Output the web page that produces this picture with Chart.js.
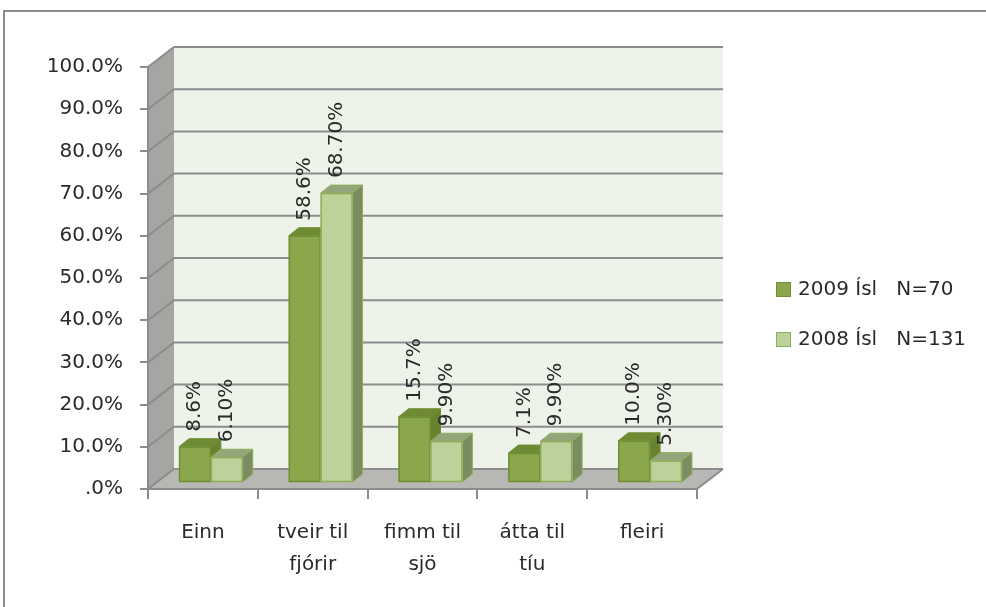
<!DOCTYPE html>
<html>
<head>
<meta charset="utf-8">
<script src="https://cdn.jsdelivr.net/npm/chart.js@4.4.0/dist/chart.umd.min.js"></script>
<style>
  html, body { margin: 0; padding: 0; background: #fff; }
  #wrap { width: 986px; height: 607px; }
</style>
</head>
<body>
<div id="wrap"><canvas id="myChart" width="986" height="607"></canvas></div>
<script>
// data
const categories = [['Einn'], ['tveir til', 'fjórir'], ['fimm til', 'sjö'], ['átta til', 'tíu'], ['fleiri']];
const seriesNames = ['2009 Ísl   N=70', '2008 Ísl   N=131'];
const values2009 = [8.6, 58.6, 15.7, 7.1, 10.0];
const values2008 = [6.10, 68.70, 9.90, 9.90, 5.30];
const labelDecimals = [1, 2];
const yMax = 100;
const yStep = 10;

// look
const fontFamily = '"DejaVu Sans", sans-serif';
const fontSize = 20;
const textColor = '#2a2a2a';
const lineGray = '#8c8c8c';
const frontColors = ['#8aa74c', '#bcd29a'];
const borderColors = ['#6f8f35', '#8fae5c'];
const topColors = ['#6e8b34', '#92a67a'];
const sideColors = ['#67832f', '#7b8c61'];

const wallDepth = { x: 26, y: -20 };
const barDepth = { x: 10, y: -8 };
const barShift = { x: 8, y: -6 };

function poly(ctx, pts, fill, stroke) {
  ctx.beginPath();
  ctx.moveTo(pts[0][0], pts[0][1]);
  for (let i = 1; i < pts.length; i++) ctx.lineTo(pts[i][0], pts[i][1]);
  ctx.closePath();
  if (fill) { ctx.fillStyle = fill; ctx.fill(); }
  if (stroke) { ctx.strokeStyle = stroke; ctx.lineWidth = 1; ctx.stroke(); }
}

// walls, floor, gridlines and the frame
const walls3d = {
  id: 'walls3d',
  beforeDraw(chart) {
    const { ctx, chartArea: a } = chart;
    const y = chart.scales.y;
    const dx = wallDepth.x, dy = wallDepth.y;
    ctx.save();
    ctx.fillStyle = '#fff';
    ctx.fillRect(0, 0, chart.width, chart.height);

    ctx.strokeStyle = lineGray;
    ctx.lineWidth = 2;
    ctx.beginPath();
    ctx.moveTo(4, chart.height);
    ctx.lineTo(4, 11);
    ctx.lineTo(chart.width, 11);
    ctx.stroke();

    // back wall
    ctx.fillStyle = '#eef3e9';
    ctx.fillRect(a.left + dx, a.top + dy, a.right - a.left, a.bottom - a.top);
    // side wall
    poly(ctx, [[a.left, a.top], [a.left + dx, a.top + dy], [a.left + dx, a.bottom + dy], [a.left, a.bottom]], '#a5a5a3');
    // floor
    poly(ctx, [[a.left, a.bottom], [a.right, a.bottom], [a.right + dx, a.bottom + dy], [a.left + dx, a.bottom + dy]], '#b7b7b3');

    ctx.strokeStyle = lineGray;
    ctx.lineWidth = 2;
    y.ticks.forEach((t) => {
      const py = y.getPixelForValue(t.value);
      ctx.beginPath();
      ctx.moveTo(a.left, py);
      ctx.lineTo(a.left + dx, py + dy);
      ctx.lineTo(a.right + dx, py + dy);
      ctx.stroke();
    });
    ctx.beginPath();
    ctx.moveTo(a.right, a.bottom);
    ctx.lineTo(a.right + dx, a.bottom + dy);
    ctx.stroke();
    ctx.restore();
  },

  beforeDatasetsDraw(chart) {
    chart.ctx.save();
    chart.ctx.translate(barShift.x, barShift.y);
  },

  afterDatasetsDraw(chart) {
    const ctx = chart.ctx;
    const metas = [chart.getDatasetMeta(0), chart.getDatasetMeta(1)];
    // redraw every bar as a box, left to right so the sides overlap right
    for (let i = 0; i < categories.length; i++) {
      metas.forEach((meta, d) => {
        const bar = meta.data[i];
        const l = bar.x - bar.width / 2, r = bar.x + bar.width / 2;
        const t = bar.y, b = bar.base;
        poly(ctx, [[l, t], [r, t], [r + barDepth.x, t + barDepth.y], [l + barDepth.x, t + barDepth.y]], topColors[d], borderColors[d]);
        poly(ctx, [[r, t], [r + barDepth.x, t + barDepth.y], [r + barDepth.x, b + barDepth.y], [r, b]], sideColors[d], borderColors[d]);
        ctx.fillStyle = frontColors[d];
        ctx.fillRect(l, t, r - l, b - t);
        ctx.strokeStyle = borderColors[d];
        ctx.lineWidth = 1.5;
        ctx.strokeRect(l + 0.5, t + 0.5, r - l - 1, b - t - 1);
      });
    }
    // value labels, turned upright
    ctx.font = fontSize + 'px ' + fontFamily;
    ctx.fillStyle = textColor;
    ctx.textAlign = 'left';
    ctx.textBaseline = 'middle';
    metas.forEach((meta, d) => {
      meta.data.forEach((bar, i) => {
        const v = chart.data.datasets[d].data[i];
        ctx.save();
        ctx.translate(bar.x, bar.y - 15);
        ctx.rotate(-Math.PI / 2);
        ctx.fillText(v.toFixed(labelDecimals[d]) + '%', 0, 0);
        ctx.restore();
      });
    });
    ctx.restore();
  },

  afterDraw(chart) {
    const ctx = chart.ctx;
    ctx.save();
    ctx.font = fontSize + 'px ' + fontFamily;
    ctx.textBaseline = 'middle';
    ctx.textAlign = 'left';
    chart.data.datasets.forEach((ds, d) => {
      const cy = 289 + d * 50;
      ctx.fillStyle = frontColors[d];
      ctx.fillRect(776, cy - 7, 15, 15);
      ctx.strokeStyle = borderColors[d];
      ctx.lineWidth = 1;
      ctx.strokeRect(776.5, cy - 6.5, 14, 14);
      ctx.fillStyle = textColor;
      ctx.fillText(ds.label, 798, cy + 1);
    });
    ctx.restore();
  }
};

const ctx = document.getElementById('myChart').getContext('2d');
const myChart = new Chart(ctx, {
  type: 'bar',
  data: {
    labels: categories,
    datasets: [
      { label: seriesNames[0], data: values2009, backgroundColor: frontColors[0] },
      { label: seriesNames[1], data: values2008, backgroundColor: frontColors[1] }
    ]
  },
  options: {
    responsive: false,
    devicePixelRatio: 1,
    animation: false,
    categoryPercentage: 0.58,
    barPercentage: 1.0,
    layout: { padding: { left: 0, top: 67, right: 289, bottom: 0 } },
    plugins: { legend: { display: false }, tooltip: { enabled: false } },
    scales: {
      x: {
        grid: { offset: true, drawOnChartArea: false, tickLength: 10, color: lineGray, lineWidth: 2 },
        border: { display: true, color: lineGray, width: 2 },
        ticks: { font: { family: fontFamily, size: fontSize, lineHeight: 1.6 }, color: textColor, padding: 18, maxRotation: 0, autoSkip: false },
        afterFit: (s) => { s.height = 118; }
      },
      y: {
        min: 0,
        max: yMax,
        grid: { drawOnChartArea: false, tickLength: 8, color: lineGray, lineWidth: 2 },
        border: { display: true, color: lineGray, width: 2 },
        ticks: {
          stepSize: yStep,
          font: { family: fontFamily, size: fontSize },
          color: textColor,
          padding: 17,
          callback: (v) => (v === 0 ? '' : v) + '.0%'
        },
        afterFit: (s) => { s.width = 148; }
      }
    }
  },
  plugins: [walls3d]
});
</script>
</body>
</html>
